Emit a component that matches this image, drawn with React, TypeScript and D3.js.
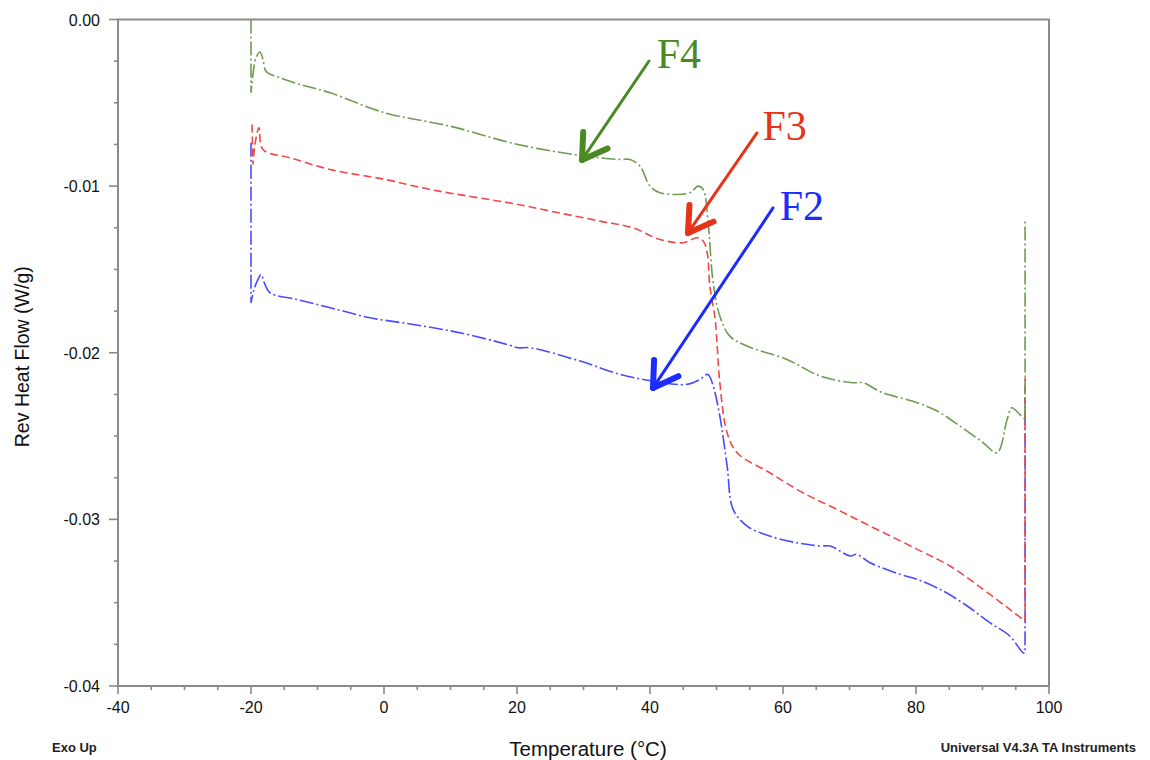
import React, { useEffect, useRef } from "react";
import * as d3 from "d3";

// ---- Data (temperature °C, rev heat flow W/g) ----
const f4Temp = [-20.0, -20.0, -19.7, -19.25, -18.65, -18.2, -17.75, -15.6, -12.6, -8.1, 0.15, 9.9, 20.15, 30.2, 35.5, 37.0, 38.5, 40.0, 41.5, 46.0, 47.2, 48.0, 48.7, 49.5, 50.5, 52.0, 54.6, 60.6, 65.6, 70.5, 72.0, 75.0, 80.2, 83.2, 86.6, 90.1, 92.2, 93.7, 94.4, 95.6, 96.4, 96.4];
const f4Flow = [0.0, -0.0044, -0.0033, -0.0023, -0.00195, -0.0024, -0.0031, -0.0035, -0.0039, -0.0044, -0.0056, -0.0064, -0.0075, -0.0082, -0.0084, -0.0084, -0.0088, -0.0100, -0.0104, -0.0104, -0.0100, -0.0102, -0.0120, -0.0158, -0.0178, -0.0190, -0.0196, -0.0204, -0.0214, -0.0218, -0.0218, -0.0224, -0.0230, -0.0235, -0.0244, -0.0254, -0.0260, -0.0240, -0.0233, -0.0237, -0.0240, -0.0121];

const f3Temp = [-19.85, -19.7, -19.4, -18.8, -18.2, -14.1, -8.1, 0.15, 6.9, 20.15, 25.0, 32.5, 37.4, 41.5, 45.0, 47.1, 48.0, 48.6, 49.0, 49.8, 50.5, 51.6, 53.1, 58.0, 63.0, 68.1, 73.1, 80.2, 85.1, 90.1, 94.1, 96.4, 96.4];
const f3Flow = [-0.0063, -0.0087, -0.0075, -0.0065, -0.0078, -0.0083, -0.0090, -0.0096, -0.0102, -0.0111, -0.0115, -0.0121, -0.0125, -0.0132, -0.0134, -0.0131, -0.0133, -0.0140, -0.0160, -0.0180, -0.0218, -0.0248, -0.0260, -0.0272, -0.0284, -0.0294, -0.0304, -0.0318, -0.0328, -0.0342, -0.0354, -0.0361, -0.0215];

const f2Temp = [-20.0, -20.0, -19.55, -18.95, -18.5, -17.9, -17.15, -13.1, -8.1, -2.1, 4.4, 11.4, 18.5, 20.15, 22.0, 29.5, 35.5, 40.5, 45.6, 47.5, 48.7, 49.5, 50.5, 51.6, 52.5, 54.6, 58.0, 62.0, 65.6, 67.1, 70.1, 71.1, 73.1, 77.6, 80.2, 84.1, 87.7, 91.1, 94.1, 96.1, 96.4, 96.4];
const f2Flow = [-0.0074, -0.0170, -0.0162, -0.0156, -0.0153, -0.0159, -0.0164, -0.0168, -0.0173, -0.0179, -0.0183, -0.0188, -0.0195, -0.0197, -0.0197, -0.0205, -0.0213, -0.0217, -0.0219, -0.0216, -0.0213, -0.0220, -0.0238, -0.0268, -0.0294, -0.0304, -0.0310, -0.0314, -0.0316, -0.0316, -0.0322, -0.0321, -0.0326, -0.0333, -0.0336, -0.0343, -0.0352, -0.0362, -0.0370, -0.0380, -0.0380, -0.0227];

const xTicks = [-40, -20, 0, 20, 40, 60, 80, 100];
const yTicks = [0.0, -0.01, -0.02, -0.03, -0.04];

const seriesNames = ["F4", "F3", "F2"];
// annotation arrows: tail and tip in data units, label position [temp, flow]
const arrowTail = [[39.85, -0.00249], [56.09, -0.00681], [58.5, -0.01131]];
const arrowTip = [[29.77, -0.00843], [45.71, -0.01281], [40.45, -0.02211]];
const labelPos = [[41.0, -0.00291], [56.9, -0.00723], [59.5, -0.01203]];

const lineColors = ["#6d9c52", "#f04848", "#4a4aff"];
const lineDash = ["14,3,2,3", "8,4", "14,3,2,3"];
const noteColors = ["#4b8a22", "#e5341a", "#1c2cff"];

const W = 1150, H = 760;
const M = { left: 118, right: 1049, top: 19.5, bottom: 686 };

export default function App() {
  const ref = useRef<SVGSVGElement>(null);
  useEffect(() => {
    const svg = d3.select(ref.current);
    svg.selectAll("*").remove();
    const x = d3.scaleLinear().domain([-40, 100]).range([M.left, M.right]);
    const y = d3.scaleLinear().domain([-0.04, 0]).range([M.bottom, M.top]);
    const axisColor = "#8a8a8a";
    const font = "'Liberation Sans', Arial, sans-serif";

    // frame
    svg.append("rect").attr("x", M.left).attr("y", M.top)
      .attr("width", M.right - M.left).attr("height", M.bottom - M.top)
      .attr("fill", "none").attr("stroke", axisColor).attr("stroke-width", 2);

    // x ticks
    const xMinor = d3.range(-40, 100.01, 5);
    const gx = svg.append("g");
    xMinor.forEach(v => {
      const major = xTicks.includes(v);
      gx.append("line").attr("x1", x(v)).attr("x2", x(v))
        .attr("y1", M.bottom).attr("y2", M.bottom + (major ? 8 : 4))
        .attr("stroke", axisColor).attr("stroke-width", 1.6);
    });
    xTicks.forEach(v => {
      gx.append("text").attr("x", x(v)).attr("y", M.bottom + 27)
        .attr("text-anchor", "middle").attr("font-family", font).attr("font-size", 16)
        .attr("fill", "#111").text(String(v));
    });

    // y ticks
    const yMinor = d3.range(0, 17).map(i => -i * 0.0025);
    const gy = svg.append("g");
    yMinor.forEach((v, i) => {
      const major = i % 4 === 0;
      gy.append("line").attr("x1", M.left - (major ? 9 : 4)).attr("x2", M.left)
        .attr("y1", y(v)).attr("y2", y(v))
        .attr("stroke", axisColor).attr("stroke-width", 1.6);
    });
    yTicks.forEach(v => {
      gy.append("text").attr("x", M.left - 18).attr("y", y(v) + 6)
        .attr("text-anchor", "end").attr("font-family", font).attr("font-size", 16)
        .attr("fill", "#111").text(v === 0 ? "0.00" : v.toFixed(2));
    });

    // axis titles
    svg.append("text").attr("transform", `translate(29,${(M.top + M.bottom) / 2 + 4}) rotate(-90)`)
      .attr("text-anchor", "middle").attr("font-family", font).attr("font-size", 19.5)
      .attr("fill", "#111").text("Rev Heat Flow (W/g)");
    svg.append("text").attr("x", 588).attr("y", 756)
      .attr("text-anchor", "middle").attr("font-family", font).attr("font-size", 20.5)
      .attr("fill", "#111").text("Temperature (°C)");
    svg.append("text").attr("x", 52).attr("y", 752)
      .attr("font-family", font).attr("font-size", 13).attr("font-weight", "bold")
      .attr("fill", "#222").text("Exo Up");
    svg.append("text").attr("x", 1136).attr("y", 752).attr("text-anchor", "end")
      .attr("font-family", font).attr("font-size", 13).attr("font-weight", "bold")
      .attr("fill", "#222").text("Universal V4.3A TA Instruments");

    // series
    const series = [
      f4Temp.map((t, i) => [t, f4Flow[i]]),
      f3Temp.map((t, i) => [t, f3Flow[i]]),
      f2Temp.map((t, i) => [t, f2Flow[i]]),
    ];
    const smooth = d3.line<number[]>().x(d => x(d[0])).y(d => y(d[1]))
      .curve(d3.curveCatmullRom.alpha(0.5));
    const pathFor = (pts: number[][]) => {
      // straight first and last segments (vertical jumps), smooth body
      const first = pts[0], last = pts[pts.length - 1];
      const body = smooth(pts.slice(1, -1)) as string;
      return `M${x(first[0])},${y(first[1])}L` + body.slice(1) + `L${x(last[0])},${y(last[1])}`;
    };
    [2, 1, 0].forEach(i => {
      svg.append("path").attr("d", pathFor(series[i]))
        .attr("fill", "none").attr("stroke", lineColors[i]).attr("stroke-width", 1.6)
        .attr("stroke-dasharray", lineDash[i]);
    });

    // annotations
    seriesNames.forEach((name, i) => {
      const tx = x(arrowTail[i][0]), ty = y(arrowTail[i][1]);
      const hx = x(arrowTip[i][0]), hy = y(arrowTip[i][1]);
      const ang = Math.atan2(ty - hy, tx - hx);
      const g = svg.append("g").attr("stroke", noteColors[i]).attr("stroke-linecap", "round");
      g.append("line").attr("x1", tx).attr("y1", ty).attr("x2", hx).attr("y2", hy)
        .attr("stroke-width", 3);
      [-0.55, 0.55].forEach(da => {
        g.append("line").attr("x1", hx).attr("y1", hy)
          .attr("x2", hx + 28 * Math.cos(ang + da)).attr("y2", hy + 28 * Math.sin(ang + da))
          .attr("stroke-width", 6);
      });
      svg.append("text").attr("x", x(labelPos[i][0])).attr("y", y(labelPos[i][1]))
        .attr("font-family", "'Liberation Serif', 'Times New Roman', serif")
        .attr("font-size", 42).attr("fill", noteColors[i]).text(name);
    });
  }, []);
  return (
    <svg ref={ref} width={W} height={H}
      style={{ position: "absolute", left: 0, top: 0, background: "#fff" }} />
  );
}
